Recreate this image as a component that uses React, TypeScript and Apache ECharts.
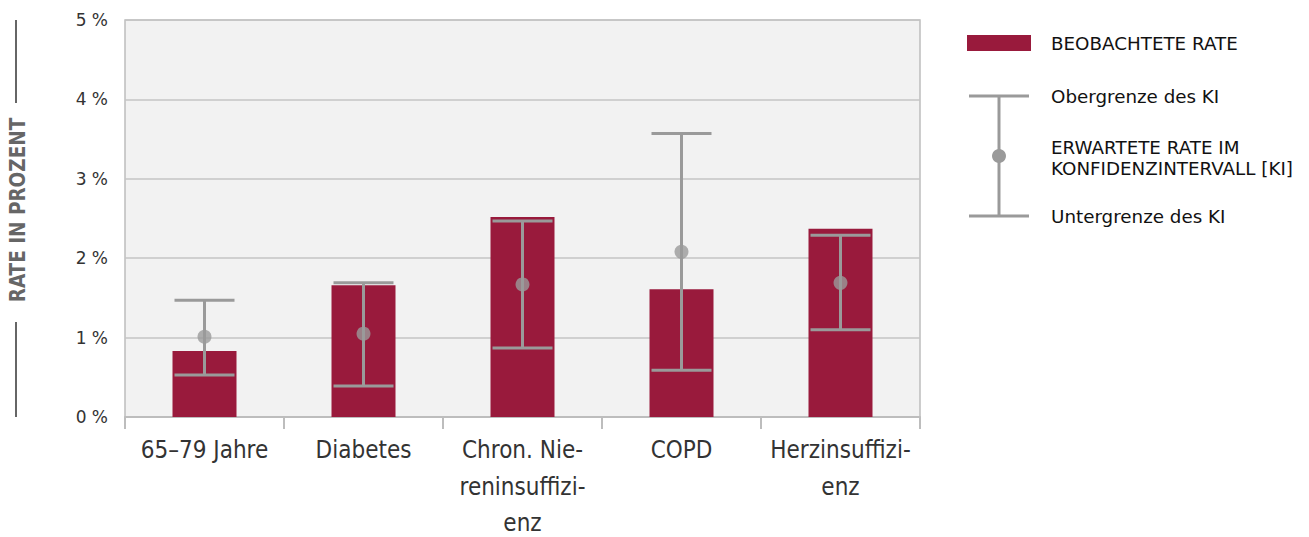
import React, { useEffect, useRef } from "react";
import * as echarts from "echarts";

const categories = ["65–79 Jahre", "Diabetes", "Chron. Nie-\nreninsuffizi-\nenz", "COPD", "Herzinsuffizi-\nenz"];
const observedRate = [0.83, 1.66, 2.52, 1.61, 2.37];
const expectedRate = [1.01, 1.05, 1.67, 2.08, 1.69];
const upperCI = [1.47, 1.69, 2.47, 3.57, 2.29];
const lowerCI = [0.53, 0.39, 0.87, 0.59, 1.10];
const yTicks = [0, 1, 2, 3, 4, 5];

const BAR = "#991a3c";
const ERR = "#9a9a9a";
const COND = "'DejaVu Sans Condensed', 'Liberation Sans Narrow', sans-serif";
const SANS = "'DejaVu Sans', sans-serif";

export default function App() {
  const ref = useRef<HTMLDivElement>(null);
  useEffect(() => {
    if (!ref.current) return;
    const chart = echarts.init(ref.current, null, { renderer: "svg" });
    const errData = categories.map((_, i) => [i, lowerCI[i], upperCI[i]]);
    chart.setOption({
      animation: false,
      grid: {
        left: 125, right: 389, top: 20, bottom: 120,
        outerBoundsMode: "none",
        containLabel: false,
        show: true, backgroundColor: "#f2f2f2", borderColor: "#bdbdbd", borderWidth: 1.5,
      },
      xAxis: {
        type: "category",
        data: categories,
        axisLine: { lineStyle: { color: "#bdbdbd", width: 2 } },
        axisTick: { show: true, length: 12, lineStyle: { color: "#bdbdbd", width: 2 } },
        axisLabel: { color: "#333", fontFamily: COND, fontSize: 24, lineHeight: 36.5, margin: 15, interval: 0 },
      },
      yAxis: {
        type: "value",
        min: yTicks[0], max: yTicks[yTicks.length - 1], interval: 1,
        axisLine: { show: false },
        axisTick: { show: false },
        splitLine: { lineStyle: { color: "#c4c4c4", width: 1.5 } },
        axisLabel: { color: "#333", fontFamily: SANS, fontSize: 17, margin: 17, formatter: (v: number) => `${v} %` },
      },
      series: [
        {
          type: "bar",
          data: observedRate,
          barWidth: 64,
          itemStyle: { color: BAR },
          z: 2,
        },
        {
          type: "custom",
          data: errData,
          z: 3,
          renderItem: (params: any, api: any) => {
            const i = api.value(0);
            const lo = api.coord([i, api.value(1)]);
            const hi = api.coord([i, api.value(2)]);
            const hw = 30;
            const style = { stroke: ERR, lineWidth: 3 };
            return {
              type: "group",
              children: [
                { type: "line", shape: { x1: hi[0], y1: hi[1], x2: lo[0], y2: lo[1] }, style },
                { type: "line", shape: { x1: hi[0] - hw, y1: hi[1], x2: hi[0] + hw, y2: hi[1] }, style },
                { type: "line", shape: { x1: lo[0] - hw, y1: lo[1], x2: lo[0] + hw, y2: lo[1] }, style },
              ],
            };
          },
        },
        {
          type: "scatter",
          data: expectedRate,
          symbol: "circle",
          symbolSize: 14,
          itemStyle: { color: ERR },
          z: 4,
        },
      ],
      graphic: [
        { type: "line", shape: { x1: 16, y1: 20, x2: 16, y2: 103 }, style: { stroke: "#666", lineWidth: 2 } },
        { type: "line", shape: { x1: 16, y1: 322, x2: 16, y2: 417 }, style: { stroke: "#666", lineWidth: 2 } },
        {
          type: "text", x: 18, y: 210, rotation: Math.PI / 2,
          style: { text: "RATE IN PROZENT", fill: "#666", font: `bold 20.5px ${COND}`, align: "center", verticalAlign: "middle" },
        },
        { type: "rect", shape: { x: 967, y: 35, width: 64, height: 16 }, style: { fill: BAR } },
        { type: "text", x: 1051, y: 43, style: { text: "BEOBACHTETE RATE", fill: "#111", font: `18.3px ${SANS}`, verticalAlign: "middle" } },
        { type: "line", shape: { x1: 969, y1: 96, x2: 1029, y2: 96 }, style: { stroke: ERR, lineWidth: 3 } },
        { type: "line", shape: { x1: 999, y1: 96, x2: 999, y2: 216 }, style: { stroke: ERR, lineWidth: 3 } },
        { type: "line", shape: { x1: 969, y1: 216, x2: 1029, y2: 216 }, style: { stroke: ERR, lineWidth: 3 } },
        { type: "circle", shape: { cx: 999, cy: 156, r: 7 }, style: { fill: ERR } },
        { type: "text", x: 1051, y: 96, style: { text: "Obergrenze des KI", fill: "#111", font: `18.3px ${SANS}`, verticalAlign: "middle" } },
        { type: "text", x: 1051, y: 147, style: { text: "ERWARTETE RATE IM", fill: "#111", font: `18.3px ${SANS}`, verticalAlign: "middle" } },
        { type: "text", x: 1051, y: 168, style: { text: "KONFIDENZINTERVALL [KI]", fill: "#111", font: `18.3px ${SANS}`, verticalAlign: "middle" } },
        { type: "text", x: 1051, y: 216, style: { text: "Untergrenze des KI", fill: "#111", font: `18.3px ${SANS}`, verticalAlign: "middle" } },
      ],
    });
    return () => chart.dispose();
  }, []);
  return <div ref={ref} style={{ width: 1309, height: 537, position: "absolute", left: 0, top: 0 }} />;
}
